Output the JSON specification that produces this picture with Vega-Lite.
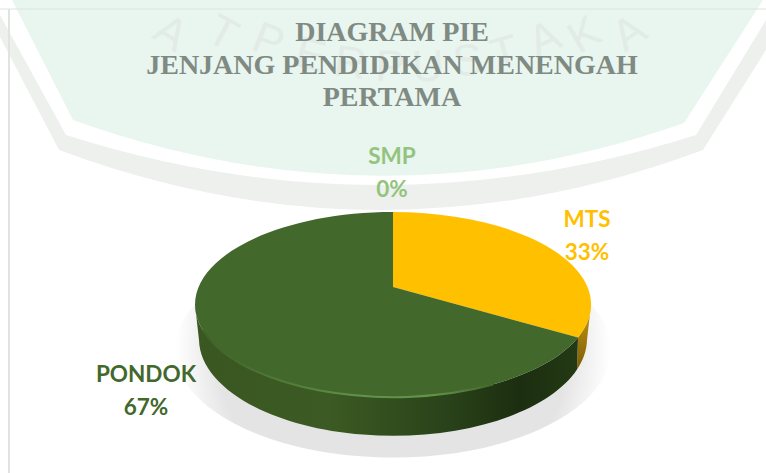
{
"$schema":"https://vega.github.io/schema/vega-lite/v6.json",
"width":766,"height":473,"padding":0,"autosize":{"type":"none"},
"background":"white",
"title":{"text":["DIAGRAM PIE","JENJANG PENDIDIKAN MENENGAH","PERTAMA"],"font":"Liberation Serif","fontSize":28,"fontWeight":"bold","color":"#7f8a83","lineHeight":32.5,"anchor":"middle","frame":"group","dx":9,"dy":112,"offset":0},
"datasets":{
"pie":[{"category":"SMP","value":0},{"category":"MTS","value":33},{"category":"PONDOK","value":67}],
"decor":[{"part":"band"},{"part":"gap"},{"part":"inner"},{"part":"frame"},{"part":"shadow"}],
"watermark":[{"i":0,"ch":"A"},{"i":1,"ch":"T"},{"i":2,"ch":"P"},{"i":3,"ch":"E"},{"i":4,"ch":"R"},{"i":5,"ch":"P"},{"i":6,"ch":"U"},{"i":7,"ch":"S"},{"i":8,"ch":"T"},{"i":9,"ch":"A"},{"i":10,"ch":"K"},{"i":11,"ch":"A"}]
},
"data":{"name":"pie"},
"layer":[
{"data":{"name":"decor"},"transform":[{"filter":"datum.part!=='shadow'"}],
 "mark":{"type":"point","filled":true,"opacity":1,"size":4},
 "encoding":{"x":{"value":0},"y":{"value":0},
  "shape":{"field":"part","type":"nominal","legend":null,"scale":{"domain":["band","gap","inner","frame"],"range":[
   "M0,37 L59,150 Q381,270 703,150 L766,50 L766,0 L0,0 Z",
   "M0,0 L0,15 L66,135 Q380,235 696,135 L766,20 L766,0 Z",
   "M12,0 L73,120 Q380,230 684,123 L763,0 Z",
   "M0,8.5 L766,8.5 L766,9.5 L10,9.5 L10,473 L8,473 L8,9.5 L0,9.5 Z"]}},
  "color":{"field":"part","type":"nominal","legend":null,"scale":{"domain":["band","gap","inner","frame"],"range":["#eef0ee","#ffffff","#e9f5ef","#e0e4e1"]}}}},
{"data":{"name":"watermark"},
 "mark":{"type":"text","font":"Liberation Sans","fontSize":44,"color":"#e2ebe5","align":"center","baseline":"middle"},
 "encoding":{"text":{"field":"ch"},
  "x":{"field":"i","type":"quantitative","axis":null,"scale":{"domain":[0,1,2,3,4,5,6,7,8,9,10,11],"range":[170,222,268,310,350,390,428,468,505,545,585,630]}},
  "y":{"field":"i","type":"quantitative","axis":null,"scale":{"domain":[0,1,2,3,4,5,6,7,8,9,10,11],"range":[34,34,42,56,64,68,68,62,54,40,36,34]}},
  "angle":{"field":"i","type":"quantitative","legend":null,"scale":{"domain":[0,1,2,3,4,5,6,7,8,9,10,11],"range":[32,28,22,16,8,2,358,352,344,336,330,326]}}}},
{"data":{"name":"decor"},"transform":[{"filter":"datum.part==='shadow'"}],
 "mark":{"type":"point","filled":true,"opacity":1,"size":4,"shape":"M-218,45 A218,108 0 1 0 218,45 A218,108 0 1 0 -218,45 Z","fill":{"gradient":"radial","x1":0.5,"y1":0.5,"x2":0.5,"y2":0.5,"r1":0,"r2":0.5,"stops":[{"offset":0,"color":"#e4e4e4"},{"offset":0.8,"color":"#e4e4e4"},{"offset":1,"color":"#ffffff"}]}},
 "encoding":{"x":{"value":393},"y":{"value":304.5}}},
{"transform":[{"filter":"datum.category==='MTS'"}],
 "mark":{"type":"point","filled":true,"opacity":1,"size":4,"shape":"M185,33 A198,92.5 0 0 0 198,0 L194,35.5 A194,97 0 0 1 184,65 Z","fill":{"gradient":"linear","x1":0,"y1":0,"x2":0,"y2":1,"stops":[{"offset":0,"color":"#c99a10"},{"offset":1,"color":"#7a5c06"}]}},
 "encoding":{"x":{"field":"value","type":"quantitative","axis":null,"scale":{"domain":[33,67],"range":[393,393]}},"y":{"field":"value","type":"quantitative","axis":null,"scale":{"domain":[33,67],"range":[304.5,304.5]}}}},
{"transform":[{"filter":"datum.category==='PONDOK'"}],
 "mark":{"type":"point","filled":true,"opacity":1,"size":4,"shape":"M-198,0 A198,92.5 0 0 0 185,33 L184,65 A194,97 0 0 1 -194,35.5 Z","fill":{"gradient":"linear","x1":0,"y1":0,"x2":1,"y2":0,"stops":[{"offset":0,"color":"#3a5722"},{"offset":0.35,"color":"#3c5a23"},{"offset":0.65,"color":"#2a431a"},{"offset":0.85,"color":"#1c2e10"},{"offset":1,"color":"#233a14"}]}},
 "encoding":{"x":{"field":"value","type":"quantitative","axis":null,"scale":{"domain":[33,67],"range":[393,393]}},"y":{"field":"value","type":"quantitative","axis":null,"scale":{"domain":[33,67],"range":[304.5,304.5]}}}},
{"transform":[{"filter":"datum.value>0"}],
 "mark":{"type":"point","filled":true,"opacity":1,"size":4},
 "encoding":{"x":{"field":"value","type":"quantitative","axis":null,"scale":{"domain":[33,67],"range":[393,393]}},"y":{"field":"value","type":"quantitative","axis":null,"scale":{"domain":[33,67],"range":[304.5,304.5]}},
  "shape":{"field":"category","type":"nominal","legend":null,"scale":{"domain":["MTS","PONDOK"],"range":["M0,-17.5 L0,-92.5 A198,92.5 0 0 1 185,33 Z","M0,-17.5 L185,33 A198,92.5 0 1 1 0,-92.5 Z"]}},
  "color":{"field":"category","type":"nominal","legend":null,"scale":{"domain":["MTS","PONDOK"],"range":["#ffc000","#43682b"]}}}},
{"transform":[{"filter":"datum.category==='PONDOK'"}],
 "mark":{"type":"point","filled":false,"opacity":1,"size":4,"strokeWidth":2,"shape":"M-190,26 A198,92.5 0 0 0 100,80","stroke":{"gradient":"linear","x1":0,"y1":0,"x2":1,"y2":0,"stops":[{"offset":0,"color":"#3f6127"},{"offset":0.55,"color":"#62934a"},{"offset":0.8,"color":"#62934a"},{"offset":1,"color":"#43682b"}]}},
 "encoding":{"x":{"field":"value","type":"quantitative","axis":null,"scale":{"domain":[33,67],"range":[393,393]}},"y":{"field":"value","type":"quantitative","axis":null,"scale":{"domain":[33,67],"range":[304.5,304.5]}}}},
{"transform":[{"calculate":"datum.category+'\\n'+datum.value+'%'","as":"label"}],
 "mark":{"type":"text","font":"Lato","fontSize":22.5,"fontWeight":"bold","lineBreak":"\n","lineHeight":33,"align":"center","baseline":"middle"},
 "encoding":{"x":{"field":"value","type":"quantitative","axis":null,"scale":{"domain":[0,33,67],"range":[392,587,146]}},"y":{"field":"value","type":"quantitative","axis":null,"scale":{"domain":[0,33,67],"range":[157,220,375]}},
  "text":{"field":"label"},
  "color":{"field":"category","type":"nominal","legend":null,"scale":{"domain":["SMP","MTS","PONDOK"],"range":["#93c47d","#ffc000","#43682b"]}}}}
],
"resolve":{"scale":{"x":"independent","y":"independent","color":"independent","shape":"independent","angle":"independent"}},
"config":{"view":{"stroke":null}}
}
